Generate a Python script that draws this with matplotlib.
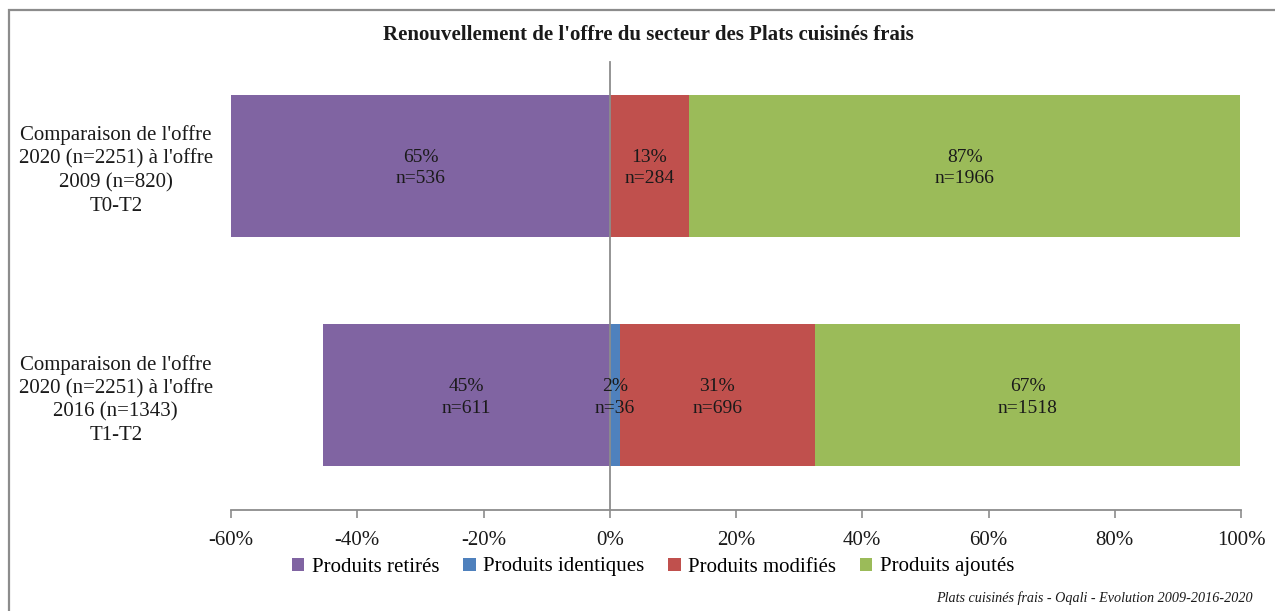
import matplotlib
matplotlib.use("Agg")
import matplotlib.pyplot as plt
from matplotlib.patches import Rectangle, Patch
from matplotlib.ticker import FuncFormatter

plt.rcParams['font.family'] = ['Liberation Serif', 'DejaVu Serif']

categories = ["Comparaison de l'offre\n2020 (n=2251) à l'offre\n2009 (n=820)\nT0-T2",
              "Comparaison de l'offre\n2020 (n=2251) à l'offre\n2016 (n=1343)\nT1-T2"]
series_names = ["Produits retirés", "Produits identiques", "Produits modifiés", "Produits ajoutés"]
colors = ["#8064A2", "#4F81BD", "#C0504D", "#9BBB59"]
retires = [-65.4, -45.5]
identiques = [0.0, 1.6]
modifies = [12.6, 30.9]
ajoutes = [87.3, 67.4]
label_pct = [["65%", "", "13%", "87%"], ["45%", "2%", "31%", "67%"]]
label_n = [["n=536", "", "n=284", "n=1966"], ["n=611", "n=36", "n=696", "n=1518"]]
xticks = [-60, -40, -20, 0, 20, 40, 60, 80, 100]

W, H = 1275, 611
fig = plt.figure(figsize=(W / 100, H / 100), dpi=100)
fig.patch.set_facecolor('white')

# border frame
fig.add_artist(Rectangle((9 / W, -0.05), 1.1, 1 - 10 / H + 0.05, transform=fig.transFigure,
                         fill=False, edgecolor='#8c8c8c', lw=1.6))

ax_left, ax_right = 231 / W, 1241 / W
ax_bot, ax_top = (H - 510) / H, (H - 51) / H
ax = fig.add_axes([ax_left, ax_bot, ax_right - ax_left, ax_top - ax_bot])
xmin, xmax = -60, 100
ax.set_xlim(xmin, xmax)
ax.set_ylim(1.5, -0.5)

ypos = [0, 1]
bh = 0.62
for i in range(2):
    segs = [(retires[i], 0), (identiques[i], 0), (modifies[i], identiques[i]),
            (ajoutes[i], identiques[i] + modifies[i])]
    for j, (w, left) in enumerate(segs):
        if w == 0:
            continue
        ax.barh(ypos[i], w, left=left, height=bh, color=colors[j], edgecolor='none', zorder=2)
        a, b = sorted([left, left + w])
        a, b = max(a, xmin), min(b, xmax)
        cx = (a + b) / 2
        if label_pct[i][j]:
            ax.text(cx, ypos[i] + 0.01, label_pct[i][j] + "\n" + label_n[i][j], ha='center',
                    va='center', fontsize=14, color='#1a1a1a', linespacing=1.32, zorder=4)

ax.axvline(0, ymin=0, ymax=(510 - 62) / (510 - 51), color='#8c8c8c', lw=1.3, zorder=3)

for s in ['top', 'right', 'left']:
    ax.spines[s].set_visible(False)
ax.spines['bottom'].set_color('#8c8c8c')
ax.spines['bottom'].set_linewidth(1.3)
ax.set_xticks(xticks)
ax.xaxis.set_major_formatter(FuncFormatter(lambda v, p: f"{int(v)}%"))
ax.tick_params(axis='x', length=6, width=1.2, color='#8c8c8c', labelsize=15, pad=9, labelcolor='#1a1a1a')
ax.set_yticks(ypos)
ax.set_yticklabels(categories, fontsize=15, linespacing=1.3, ha='center', color='#1a1a1a')
ax.tick_params(axis='y', length=0, pad=83)

fig.text(648 / W, 1 - 35 / H, "Renouvellement de l'offre du secteur des Plats cuisinés frais",
         ha='center', va='center', fontsize=15, fontweight='bold', color='#1a1a1a')

handles = [Patch(facecolor=c, edgecolor='none') for c in colors]
fig.legend(handles, series_names, loc='center', bbox_to_anchor=(653 / W, 1 - 567 / H), ncol=4,
           frameon=False, fontsize=15, handlelength=0.6, handleheight=0.6, handletextpad=0.35,
           columnspacing=1.15)

fig.text(1253 / W, 1 - 598 / H, "Plats cuisinés frais - Oqali - Evolution 2009-2016-2020",
         ha='right', va='center', fontsize=10.2, style='italic', color='#1a1a1a')

fig.savefig("out.png", dpi=100)
